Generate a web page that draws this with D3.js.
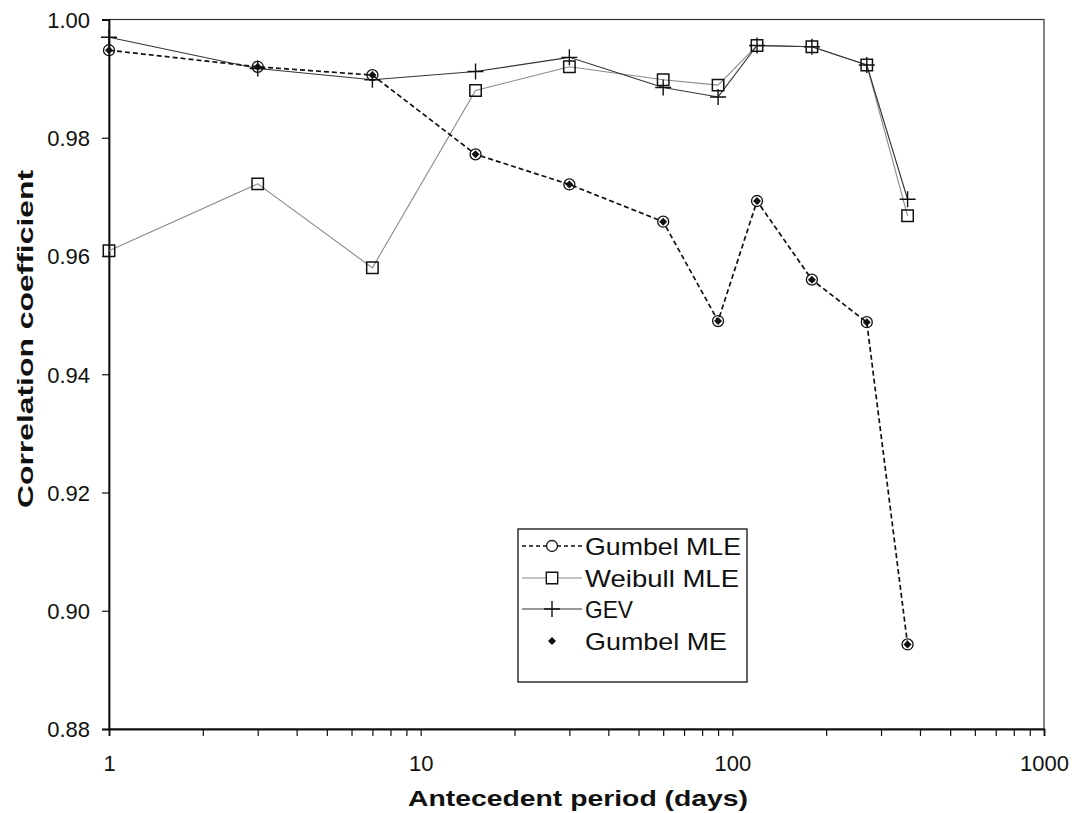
<!DOCTYPE html>
<html>
<head>
<meta charset="utf-8">
<script src="https://cdn.jsdelivr.net/npm/d3@7/dist/d3.min.js"></script>
<style>
  html, body { margin: 0; padding: 0; background: #fff; }
  text { font-family: "Liberation Sans", Arial, sans-serif; fill: #111; }
</style>
</head>
<body>
<svg id="chart" width="1073" height="813"></svg>
<script>
// ---- data ----
const periods = [1, 3, 7, 15, 30, 60, 90, 120, 180, 270, 365];
const gumbelMLE = [0.9948, 0.9920, 0.9906, 0.9772, 0.9721, 0.9658, 0.9490, 0.9693, 0.9560, 0.9488, 0.8943];
const gumbelME  = [0.9948, 0.9920, 0.9906, 0.9772, 0.9721, 0.9658, 0.9490, 0.9693, 0.9560, 0.9488, 0.8943];
const weibullMLE = [0.9609, 0.9722, 0.9580, 0.9880, 0.9920, 0.9898, 0.9889, 0.9956, 0.9954, 0.9923, 0.9668];
const gev = [0.9970, 0.9917, 0.9898, 0.9912, 0.9936, 0.9885, 0.9869, 0.9956, 0.9954, 0.9923, 0.9696];
const yTicks = [0.88, 0.90, 0.92, 0.94, 0.96, 0.98, 1.00];
const xTicks = [1, 10, 100, 1000];
const legendLabels = ["Gumbel MLE", "Weibull MLE", "GEV", "Gumbel ME"];

// ---- layout ----
const svg = d3.select("#chart");
const pLeft = 109, pRight = 1044, pTop = 19.5, pBottom = 729;
const x = d3.scaleLog().domain([1, 1000]).range([pLeft, pRight]);
const y = d3.scaleLinear().domain([0.88, 1.00]).range([pBottom, pTop]);

// frame
svg.append("rect").attr("x", pLeft).attr("y", pTop)
  .attr("width", pRight - pLeft).attr("height", pBottom - pTop)
  .attr("fill", "none").attr("stroke", "#333").attr("stroke-width", 1.2);

// y axis
const yAxis = d3.axisLeft(y).tickValues(yTicks).tickFormat(d3.format(".2f")).tickSize(7).tickPadding(12);
const gy = svg.append("g").attr("transform", `translate(${pLeft},0)`).call(yAxis);
gy.select(".domain").attr("stroke", "#111").attr("stroke-width", 1.8);
gy.selectAll(".tick line").attr("stroke", "#111").attr("stroke-width", 1.2);
gy.selectAll(".tick text").attr("font-size", 22).attr("font-family", "Liberation Sans, Arial, sans-serif")
  .attr("fill", "#111").attr("dy", "0.36em");

// x axis (major + minor ticks)
const allX = [];
for (let p = 1; p < 1000; p *= 10) for (let k = 1; k < 10; k++) allX.push(p * k);
allX.push(1000);
const xAxis = d3.axisBottom(x).tickValues(allX)
  .tickFormat(d => xTicks.includes(d) ? String(d) : "").tickSize(7).tickPadding(19);
const gx = svg.append("g").attr("transform", `translate(0,${pBottom})`).call(xAxis);
gx.select(".domain").attr("stroke", "#111").attr("stroke-width", 1.8);
gx.selectAll(".tick line").attr("stroke", "#111").attr("stroke-width", 1.2);
gx.selectAll(".tick text").attr("font-size", 22).attr("font-family", "Liberation Sans, Arial, sans-serif")
  .attr("fill", "#111");

// axis titles
svg.append("text").attr("x", 578).attr("y", 806).attr("text-anchor", "middle")
  .attr("font-size", 22).attr("font-weight", "bold")
  .attr("textLength", 340).attr("lengthAdjust", "spacingAndGlyphs")
  .text("Antecedent period (days)");
svg.append("text").attr("transform", "translate(33,339) rotate(-90)").attr("text-anchor", "middle")
  .attr("font-size", 22).attr("font-weight", "bold")
  .attr("textLength", 338).attr("lengthAdjust", "spacingAndGlyphs")
  .text("Correlation coefficient");

// ---- series ----
const pts = vals => periods.map((p, i) => [p, vals[i]]);
const line = d3.line().x(d => x(d[0])).y(d => y(d[1]));

svg.append("path").datum(pts(weibullMLE)).attr("d", line)
  .attr("fill", "none").attr("stroke", "#8a8a8a").attr("stroke-width", 1.1);
svg.append("path").datum(pts(gev)).attr("d", line)
  .attr("fill", "none").attr("stroke", "#333").attr("stroke-width", 1.1);
svg.append("path").datum(pts(gumbelMLE)).attr("d", line)
  .attr("fill", "none").attr("stroke", "#111").attr("stroke-width", 1.7).attr("stroke-dasharray", "5,3");

const symSquare = d3.symbol().type(d3.symbolSquare).size(130);
function plusPath(cx, cy, h) {
  return `M${cx - h},${cy}H${cx + h}M${cx},${cy - h}V${cy + h}`;
}
function diamondPath(cx, cy, r) {
  return `M${cx},${cy - r}L${cx + r},${cy}L${cx},${cy + r}L${cx - r},${cy}Z`;
}

// weibull squares
svg.append("g").selectAll("path").data(pts(weibullMLE)).join("path")
  .attr("transform", d => `translate(${x(d[0])},${y(d[1])})`)
  .attr("d", symSquare).attr("fill", "none").attr("stroke", "#111").attr("stroke-width", 1.5);
// gev plus
svg.append("g").selectAll("path").data(pts(gev)).join("path")
  .attr("d", d => plusPath(x(d[0]), y(d[1]), 8))
  .attr("fill", "none").attr("stroke", "#111").attr("stroke-width", 1.4);
// gumbel MLE circles
svg.append("g").selectAll("circle").data(pts(gumbelMLE)).join("circle")
  .attr("cx", d => x(d[0])).attr("cy", d => y(d[1])).attr("r", 5.5)
  .attr("fill", "none").attr("stroke", "#111").attr("stroke-width", 1.3);
// gumbel ME diamonds
svg.append("g").selectAll("path").data(pts(gumbelME)).join("path")
  .attr("d", d => diamondPath(x(d[0]), y(d[1]), 4))
  .attr("fill", "#111");

// ---- legend ----
const lg = svg.append("g");
lg.append("rect").attr("x", 518).attr("y", 529).attr("width", 229).attr("height", 153)
  .attr("fill", "#fff").attr("stroke", "#111").attr("stroke-width", 1.3);
const rowY = [546, 578, 609, 641];
const textW = [156, 154, 48, 142];
const lx0 = 522, lx1 = 582, lc = 552;
// Gumbel MLE
lg.append("line").attr("x1", lx0).attr("x2", lx1).attr("y1", rowY[0]).attr("y2", rowY[0])
  .attr("stroke", "#111").attr("stroke-width", 1.4).attr("stroke-dasharray", "4,3");
lg.append("circle").attr("cx", lc).attr("cy", rowY[0]).attr("r", 5.5)
  .attr("fill", "#fff").attr("stroke", "#111").attr("stroke-width", 1.3);
// Weibull
lg.append("line").attr("x1", lx0).attr("x2", lx1).attr("y1", rowY[1]).attr("y2", rowY[1])
  .attr("stroke", "#8a8a8a").attr("stroke-width", 1.1);
lg.append("path").attr("transform", `translate(${lc},${rowY[1]})`).attr("d", symSquare)
  .attr("fill", "#fff").attr("stroke", "#111").attr("stroke-width", 1.4);
// GEV
lg.append("line").attr("x1", lx0).attr("x2", lx1).attr("y1", rowY[2]).attr("y2", rowY[2])
  .attr("stroke", "#333").attr("stroke-width", 1.1);
lg.append("path").attr("d", plusPath(lc, rowY[2], 8)).attr("stroke", "#111").attr("stroke-width", 1.4);
// Gumbel ME
lg.append("path").attr("d", diamondPath(lc, rowY[3], 4)).attr("fill", "#111");

lg.selectAll("text.lbl").data(legendLabels).join("text").attr("class", "lbl")
  .attr("x", 585).attr("y", (d, i) => rowY[i] + 8.5)
  .attr("font-size", 24)
  .attr("textLength", (d, i) => textW[i]).attr("lengthAdjust", "spacingAndGlyphs")
  .text(d => d);
</script>
</body>
</html>
